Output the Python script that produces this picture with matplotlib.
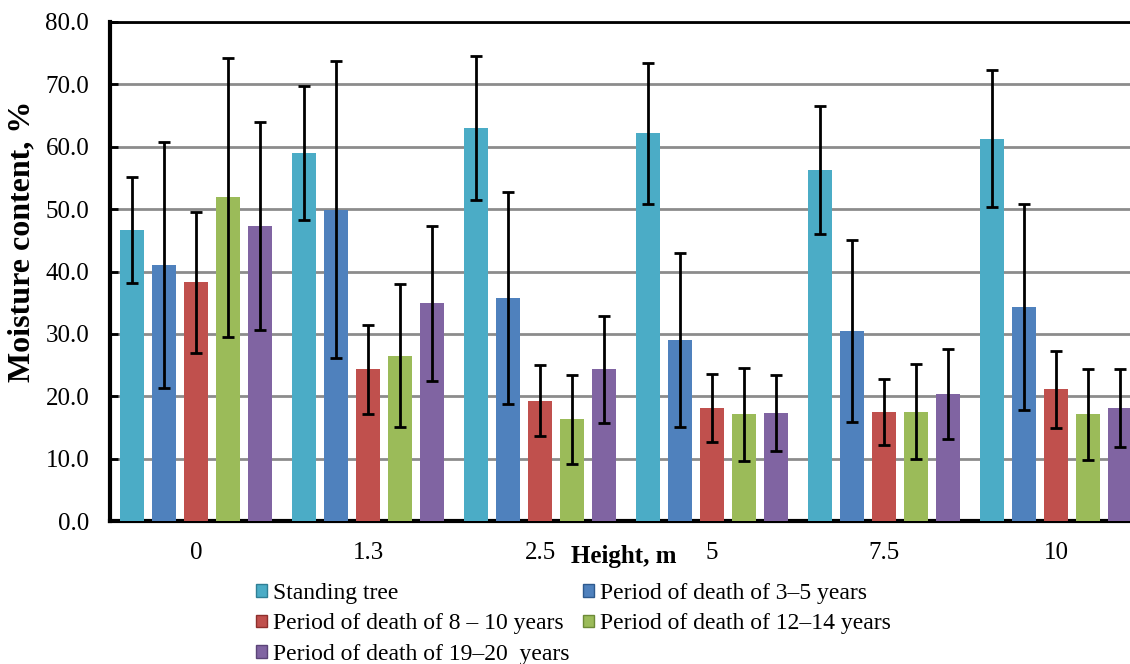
import numpy as np
import matplotlib
matplotlib.use("Agg")
import matplotlib.pyplot as plt
from matplotlib.patches import Patch

# ---------- DATA ----------
heights = ["0", "1.3", "2.5", "5", "7.5", "10"]
series = [
    "Standing tree",
    "Period of death of 3\u20135 years",
    "Period of death of 8 \u2013 10 years",
    "Period of death of 12\u201314 years",
    "Period of death of 19\u201320  years",
]
standing = [46.7, 59.0, 63.0, 62.2, 56.3, 61.3]
death_3_5 = [41.1, 49.9, 35.7, 29.0, 30.5, 34.3]
death_8_10 = [38.3, 24.3, 19.3, 18.1, 17.5, 21.1]
death_12_14 = [51.9, 26.5, 16.3, 17.1, 17.5, 17.1]
death_19_20 = [47.3, 34.9, 24.3, 17.3, 20.3, 18.1]

err_standing = [8.5, 10.7, 11.5, 11.3, 10.3, 11.0]
err_3_5 = [19.7, 23.8, 17.0, 13.9, 14.6, 16.5]
err_8_10 = [11.3, 7.2, 5.7, 5.4, 5.3, 6.2]
err_12_14 = [22.4, 11.5, 7.1, 7.5, 7.6, 7.3]
err_19_20 = [16.7, 12.4, 8.6, 6.1, 7.2, 6.3]

colors = ["#4BACC6", "#4F81BD", "#C0504D", "#9BBB59", "#8064A2"]
edge_colors = ["#2F7F95", "#2E5A8E", "#8E2F2C", "#6C8A37", "#5B4478"]

values = [standing, death_3_5, death_8_10, death_12_14, death_19_20]
errors = [err_standing, err_3_5, err_8_10, err_12_14, err_19_20]

# ---------- PLOT ----------
plt.rcParams["font.family"] = ["Liberation Serif", "DejaVu Serif"]

W, H = 1130, 664
fig = plt.figure(figsize=(W / 100, H / 100), dpi=100)
ax = fig.add_axes([110 / W, 1 - 521 / H, (1142 - 110) / W, (521 - 22) / H])

x = np.arange(len(heights))
pitch = 0.186
width = 0.145
for i, (vals, errs) in enumerate(zip(values, errors)):
    pos = x + (i - 2) * pitch
    ax.bar(pos, vals, width, color=colors[i], zorder=3)
    ax.errorbar(pos, vals, yerr=errs, fmt="none", ecolor="black",
                elinewidth=2, capsize=4.5, capthick=2, zorder=4)

ax.set_xlim(-0.5, len(heights) - 0.5)
ax.set_ylim(0, 80)
ax.set_yticks(np.arange(0, 81, 10))
ax.set_yticklabels([f"{v:.1f}" for v in np.arange(0, 81, 10)], fontsize=18)
ax.set_xticks(x)
ax.set_xticklabels(heights, fontsize=18)
ax.tick_params(axis="x", length=0, pad=15)
ax.tick_params(axis="y", direction="in", length=6, width=2, pad=15)
ax.yaxis.grid(True, color="#8c8c8c", linewidth=2, zorder=0)
ax.set_axisbelow(True)

for side in ["left", "bottom"]:
    ax.spines[side].set_linewidth(3)
ax.spines["top"].set_linewidth(2)
ax.spines["right"].set_visible(False)

fig.text(22 / W, 1 - 241 / H, "Moisture content, %", fontsize=23,
         fontweight="bold", rotation=90, ha="center", va="center")
fig.text(624 / W, 1 - 557 / H, "Height, m", fontsize=18, fontweight="bold",
         ha="center", va="center")

# legend filled row by row: reorder for matplotlib's column-major layout
order = [0, 2, 4, 1, 3]
handles = [Patch(facecolor=colors[i], edgecolor=edge_colors[i], linewidth=1)
           for i in order]
labels = [series[i] for i in order]
fig.legend(handles, labels, loc="upper left",
           bbox_to_anchor=(256 / W, 1 - 583 / H), ncol=2,
           frameon=False, fontsize=17, handlelength=0.45, handleheight=0.45,
           handletextpad=0.25, columnspacing=0.6, labelspacing=0.4,
           borderaxespad=0, borderpad=0)

fig.savefig("out.png", dpi=100)
